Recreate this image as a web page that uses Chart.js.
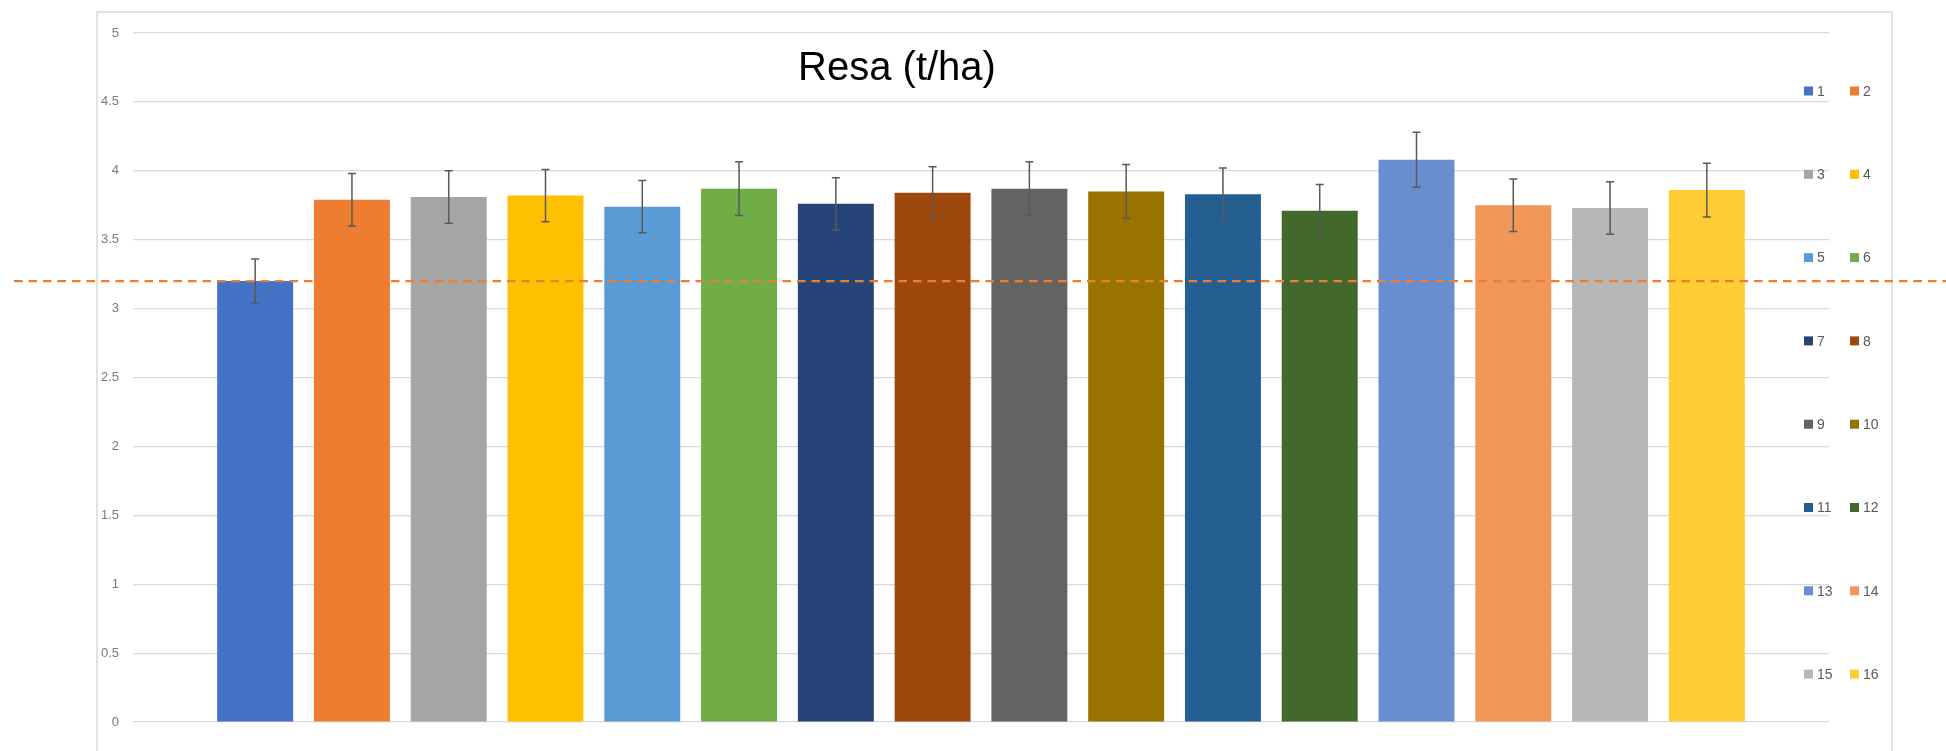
<!DOCTYPE html>
<html>
<head>
<meta charset="utf-8">
<title>Resa (t/ha)</title>
<script src="https://cdn.jsdelivr.net/npm/chart.js@4.4.1/dist/chart.umd.min.js"></script>
<style>
  body { margin: 0; background: #fff; }
  #wrap { width: 1946px; height: 751px; }
</style>
</head>
<body>
<div id="wrap"><canvas id="resaChart" width="1946" height="751"></canvas></div>
<script>
// series 1..16, one bar each
var seriesNames = ['1', '2', '3', '4', '5', '6', '7', '8', '9', '10', '11', '12', '13', '14', '15', '16'];
var resaValues = [3.20, 3.79, 3.81, 3.82, 3.74, 3.87, 3.76, 3.84, 3.87, 3.85, 3.83, 3.71, 4.08, 3.75, 3.73, 3.86];
var resaErrors = [0.16, 0.19, 0.19, 0.19, 0.19, 0.195, 0.19, 0.19, 0.195, 0.195, 0.19, 0.19, 0.20, 0.19, 0.19, 0.195];
var refLine = 3.2;
var yMin = 0, yMax = 5, yStep = 0.5;

var barColors = ['#4472C4', '#ED7D31', '#A5A5A5', '#FFC000', '#5B9BD5', '#70AD47', '#264478', '#9E480E',
                 '#636363', '#997300', '#255E91', '#43682B', '#698ED0', '#F1975A', '#B7B7B7', '#FFCD33'];

var datasets = seriesNames.map(function(name, i) {
  return {
    label: name,
    data: [resaValues[i]],
    backgroundColor: barColors[i],
    borderWidth: 0
  };
});

// grey frame around the whole chart
var framePlugin = {
  id: 'frame',
  beforeDraw: function(chart) {
    var ctx = chart.ctx;
    ctx.save();
    ctx.fillStyle = '#fff';
    ctx.fillRect(0, 0, chart.width, chart.height);
    ctx.strokeStyle = '#d9d9d9';
    ctx.lineWidth = 1.5;
    ctx.beginPath();
    ctx.moveTo(97, chart.height + 2);
    ctx.lineTo(97, 12);
    ctx.lineTo(1892, 12);
    ctx.lineTo(1892, chart.height + 2);
    ctx.stroke();
    ctx.restore();
  }
};

var extrasPlugin = {
  id: 'extras',
  afterDatasetsDraw: function(chart) {
    var ctx = chart.ctx;
    var y = chart.scales.y;
    ctx.save();

    // error bars
    ctx.strokeStyle = '#595959';
    ctx.lineWidth = 1.5;
    chart.data.datasets.forEach(function(ds, i) {
      var bar = chart.getDatasetMeta(i).data[0];
      var top = y.getPixelForValue(resaValues[i] + resaErrors[i]);
      var bot = y.getPixelForValue(resaValues[i] - resaErrors[i]);
      ctx.beginPath();
      ctx.moveTo(bar.x, top); ctx.lineTo(bar.x, bot);
      ctx.moveTo(bar.x - 4, top); ctx.lineTo(bar.x + 4, top);
      ctx.moveTo(bar.x - 4, bot); ctx.lineTo(bar.x + 4, bot);
      ctx.stroke();
    });

    // dashed reference line
    var ry = y.getPixelForValue(refLine);
    ctx.strokeStyle = '#ED7D31';
    ctx.lineWidth = 2.3;
    ctx.setLineDash([8.5, 6]);
    ctx.beginPath();
    ctx.moveTo(14, ry);
    ctx.lineTo(chart.width, ry);
    ctx.stroke();
    ctx.setLineDash([]);

    // title
    ctx.fillStyle = '#000';
    ctx.font = '40px "Liberation Sans", Arial, sans-serif';
    ctx.textAlign = 'center';
    ctx.textBaseline = 'alphabetic';
    ctx.fillText('Resa (t/ha)', 897, 80);

    // legend, two columns
    ctx.font = '14px "Liberation Sans", Arial, sans-serif';
    ctx.textAlign = 'left';
    ctx.textBaseline = 'middle';
    chart.data.datasets.forEach(function(ds, i) {
      var lx = 1804 + (i % 2) * 46;
      var ly = 91 + Math.floor(i / 2) * 83.3;
      ctx.fillStyle = ds.backgroundColor;
      ctx.fillRect(lx, ly - 4.5, 9, 9);
      ctx.fillStyle = '#595959';
      ctx.fillText(ds.label, lx + 13, ly + 1);
    });

    ctx.restore();
  }
};

var chart = new Chart(document.getElementById('resaChart'), {
  type: 'bar',
  data: { labels: ['Resa'], datasets: datasets },
  options: {
    responsive: false,
    devicePixelRatio: 1,
    animation: false,
    layout: { padding: { left: 0, right: 117, top: 33, bottom: 29 } },
    datasets: { bar: { categoryPercentage: 0.913, barPercentage: 0.785 } },
    plugins: { legend: { display: false }, title: { display: false }, tooltip: { enabled: false } },
    scales: {
      x: { display: false },
      y: {
        min: yMin,
        max: yMax,
        afterFit: function(scale) { scale.width = 133; },
        ticks: {
          stepSize: yStep,
          padding: 14,
          color: '#7a7a7a',
          font: { family: '"Liberation Sans", Arial, sans-serif', size: 13 },
          callback: function(v) { return String(v); }
        },
        grid: { color: '#d9d9d9', lineWidth: 1.2, drawTicks: false },
        border: { display: false }
      }
    }
  },
  plugins: [framePlugin, extrasPlugin]
});
</script>
</body>
</html>
